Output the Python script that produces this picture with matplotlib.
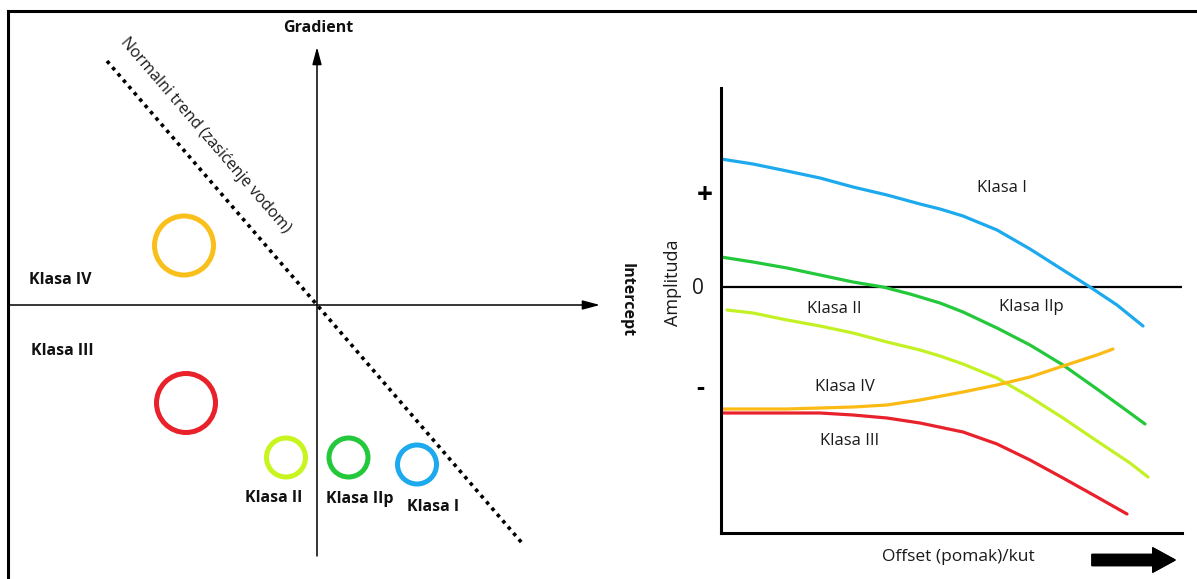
import matplotlib.pyplot as plt
from matplotlib.patches import Circle
from matplotlib.lines import Line2D

plt.rcParams['font.family'] = ['Open Sans', 'DejaVu Sans']

# left panel: AVO crossplot (intercept / gradient)
circle_names = ['Klasa IV', 'Klasa III', 'Klasa II', 'Klasa IIp', 'Klasa I']
circle_x = [-1.33, -1.31, -0.31, 0.315, 1.00]
circle_y = [0.595, -0.98, -1.525, -1.525, -1.595]
circle_r = [0.295, 0.295, 0.195, 0.195, 0.195]
circle_colors = ['#F9C01B', '#E8212B', '#C8F51E', '#23C83B', '#1CA9EE']
trend_x = [-2.10, 2.05]
trend_y = [2.44, -2.38]

# right panel: amplitude vs offset
blue_x = [0.0, 0.32, 0.66, 0.99, 1.32, 1.66, 1.99, 2.19, 2.42, 2.76, 3.09,
          3.42, 3.69, 3.96, 4.22]
blue_y = [1.28, 1.23, 1.16, 1.09, 1.00, 0.92, 0.83, 0.78, 0.71, 0.57, 0.38,
          0.17, 0.0, -0.18, -0.39]
green_x = [0.0, 0.32, 0.66, 0.99, 1.32, 1.62, 1.89, 2.19, 2.42, 2.76, 3.09,
           3.42, 3.76, 4.09, 4.24]
green_y = [0.30, 0.25, 0.19, 0.12, 0.05, 0.0, -0.07, -0.16, -0.25, -0.41,
           -0.58, -0.78, -1.02, -1.26, -1.37]
lime_x = [0.06, 0.32, 0.66, 0.99, 1.32, 1.66, 1.99, 2.19, 2.42, 2.76, 3.09,
          3.42, 3.76, 4.09, 4.27]
lime_y = [-0.23, -0.26, -0.33, -0.39, -0.46, -0.55, -0.63, -0.69, -0.77,
          -0.91, -1.10, -1.31, -1.54, -1.76, -1.90]
orange_x = [0.0, 0.66, 0.99, 1.32, 1.66, 1.99, 2.42, 2.76, 3.09, 3.42, 3.76,
            3.92]
orange_y = [-1.22, -1.22, -1.21, -1.20, -1.18, -1.13, -1.05, -0.98, -0.90,
            -0.79, -0.68, -0.62]
red_x = [0.0, 0.66, 0.99, 1.32, 1.66, 1.99, 2.42, 2.76, 3.09, 3.42, 3.76,
         4.06]
red_y = [-1.26, -1.26, -1.26, -1.28, -1.31, -1.36, -1.45, -1.57, -1.73,
         -1.91, -2.10, -2.27]

fig = plt.figure(figsize=(11.97, 5.79), dpi=100)
fig.patch.set_facecolor('white')

# image frame (top and left only)
fig.add_artist(Line2D([8 / 1197, 1], [1 - 11 / 579, 1 - 11 / 579],
                      transform=fig.transFigure, color='black', lw=2.2))
fig.add_artist(Line2D([8 / 1197, 8 / 1197], [0, 1 - 11 / 579],
                      transform=fig.transFigure, color='black', lw=2.2))

# ---- left panel
ax = fig.add_axes([8 / 1197, 4 / 579, 642 / 1197, 565 / 579])
ax.set_xlim(-3.09, 3.33)
ax.set_ylim(-2.70, 2.95)
ax.axis('off')

arrow = dict(arrowstyle='-|>,head_length=1.05,head_width=0.28', lw=1.1,
             color='black', shrinkA=0, shrinkB=0)
ax.annotate('', xy=(2.83, 0), xytext=(-3.09, 0), arrowprops=arrow)
ax.annotate('', xy=(0, 2.58), xytext=(0, -2.51), arrowprops=arrow)

ax.plot(trend_x, trend_y, color='black', lw=2.6, linestyle=(0, (1.0, 1.3)),
        dash_capstyle='butt')
ax.text(-1.12, 1.70, 'Normalni trend (zasićenje vodom)', rotation=-49.3,
        ha='center', va='center', fontsize=11.5, color='#1a1a1a')

for x, y, r, c in zip(circle_x, circle_y, circle_r, circle_colors):
    ax.add_patch(Circle((x, y), r, fill=False, edgecolor=c, lw=3.6))

bold = dict(fontsize=11.5, fontweight='bold', ha='center', va='center',
            color='#111111')
ax.text(0.01, 2.77, 'Gradient', **bold)
ax.text(3.10, 0.05, 'Intercept', rotation=-90, **bold)
label_pos = [(-2.57, 0.25), (-2.55, -0.46), (-0.43, -1.93), (0.43, -1.94),
             (1.16, -2.02)]
for name, (x, y) in zip(circle_names, label_pos):
    ax.text(x, y, name, **bold)

# ---- right panel
ax2 = fig.add_axes([721 / 1197, (579 - 533) / 579, 461 / 1197, 445 / 579])
ax2.set_xlim(0, 4.61)
ax2.set_ylim(-2.46, 1.99)
for s in ['top', 'right']:
    ax2.spines[s].set_visible(False)
for s in ['left', 'bottom']:
    ax2.spines[s].set_linewidth(2.2)
ax2.set_xticks([])
ax2.set_yticks([])
ax2.axhline(0, color='black', lw=1.6)

lw = 2.3
ax2.plot(blue_x, blue_y, color='#1CA9EE', lw=lw, solid_capstyle='round',
         solid_joinstyle='round')
ax2.plot(green_x, green_y, color='#23C83B', lw=lw, solid_capstyle='round',
         solid_joinstyle='round')
ax2.plot(lime_x, lime_y, color='#C3F124', lw=lw, solid_capstyle='round',
         solid_joinstyle='round')
ax2.plot(red_x, red_y, color='#E8212B', lw=lw, solid_capstyle='round',
         solid_joinstyle='round')
ax2.plot(orange_x, orange_y, color='#FBBA14', lw=lw, solid_capstyle='round',
         solid_joinstyle='round')

norm = dict(fontsize=12, ha='center', va='center', color='#1a1a1a')
ax2.text(2.81, 0.99, 'Klasa I', **norm)
ax2.text(1.13, -0.22, 'Klasa II', **norm)
ax2.text(3.10, -0.20, 'Klasa IIp', **norm)
ax2.text(1.24, -1.00, 'Klasa IV', **norm)
ax2.text(1.29, -1.54, 'Klasa III', **norm)

ax2.text(-0.16, 0.91, '+', fontsize=20, fontweight='bold', ha='center',
         va='center', clip_on=False)
ax2.text(-0.23, -0.01, '0', fontsize=15, ha='center', va='center',
         clip_on=False, color='#1a1a1a')
ax2.text(-0.21, -1.02, '-', fontsize=18, fontweight='bold', ha='center',
         va='center', clip_on=False)

fig.text(673 / 1197, 1 - 283 / 579, 'Amplituda', rotation=90, fontsize=13,
         ha='center', va='center', color='#1a1a1a')
fig.text(958 / 1197, 1 - 557 / 579, 'Offset (pomak)/kut', fontsize=12.5,
         ha='center', va='center', color='#1a1a1a')
fig.add_artist(plt.annotate(
    '', xy=(1175, 19), xytext=(1092, 19), xycoords='figure pixels',
    arrowprops=dict(arrowstyle='simple,head_length=1.6,head_width=1.75,'
                    'tail_width=0.8', mutation_scale=10, color='black',
                    shrinkA=0, shrinkB=0)))

fig.savefig('out.png', dpi=100, facecolor='white')
